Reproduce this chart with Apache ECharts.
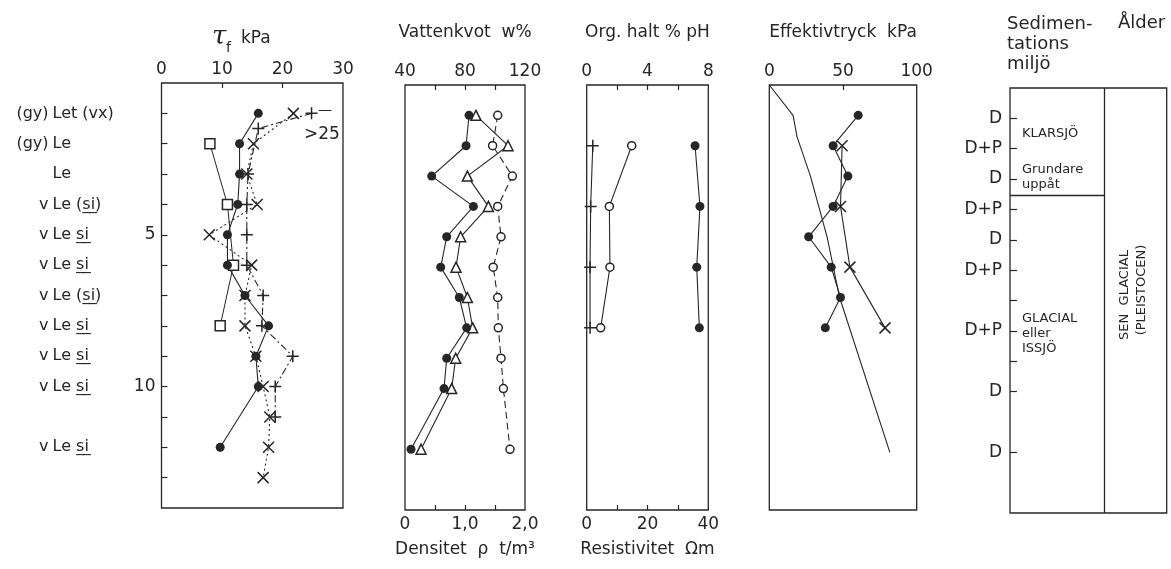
<!DOCTYPE html>
<html><head><meta charset="utf-8">
<script src="https://cdn.jsdelivr.net/npm/echarts@6/dist/echarts.min.js"></script>
<style>html,body{margin:0;padding:0;background:#fff}#c{width:1171px;height:569px}</style>
</head><body><div id="c"></div>
<script>
// ---------- DATA ----------
// Panel 1: shear strength tau_f (kPa) vs depth (m)
const tauCircleDepth = [1,2,3,4,5,6,7,8,9,10,12];
const tauCircle      = [16.0,12.9,12.9,12.6,10.9,10.9,13.8,17.7,15.6,16.0,9.7];
const tauSquareDepth = [2,4,6,8];
const tauSquare      = [8.0,10.9,11.9,9.7];
const tauCrossDepth  = [1,2,3,4,5,6,7,8,9,10,11,12,13];
const tauCross       = [21.8,15.2,14.1,15.8,7.9,14.9,13.8,13.8,15.6,16.8,17.9,17.7,16.8];
const tauPlusDepth   = [1,1.5,3,4,5,6,7,8,9,10,11];
const tauPlus        = [24.8,16.0,14.3,14.1,14.1,14.1,16.8,16.6,21.7,18.8,18.8];
// Soil description labels
const soilDepth = [1,2,3,4,5,6,7,8,9,10,12];
const soilPre   = ['(gy)','(gy)','','v','v','v','v','v','v','v','v'];
const soilMain  = ['Let (vx)','Le','Le','Le (s\u0332i\u0332)','Le s\u0332i\u0332','Le s\u0332i\u0332','Le (s\u0332i\u0332)','Le s\u0332i\u0332','Le s\u0332i\u0332','Le s\u0332i\u0332','Le s\u0332i\u0332'];
// Panel 2: water content & density
const wDepth   = [1,2,3,4,5,6,7,8,9,10,12];
const wNat     = [82.7,80.7,57.8,85.6,67.8,63.8,76.2,81.1,67.8,66.0,44.0];
const wLiq     = [87.3,108.7,81.6,95.6,77.1,74.0,81.6,85.1,73.8,71.1,50.7];
const density  = [1.545,1.46,1.79,1.545,1.60,1.47,1.545,1.555,1.60,1.64,1.75];
// Panel 3: organic content, pH, resistivity
const chemDepth = [2,4,6,8];
const orgPct    = [2.96,1.49,1.53,0.92];
const pH        = [7.13,7.45,7.24,7.41];
const resist    = [2.0,1.3,1.1,1.1];
// Panel 4: effective pressure
const preDepth  = [1,2,3,4,5,6,7,8];
const preCons   = [60.3,43.3,53.3,43.3,26.7,42.0,48.3,38.0];
const preXDepth = [2,4,6,8];
const preX      = [49.4,48.3,54.7,78.5];
const ovbDepth  = [0,1,1.7,3,5,7,12.1];
const ovb       = [0,16.1,18.8,27.9,39.2,47.7,81.8];
// Panel 5: sedimentation environment
const envDepth  = [1,2,3,4,5,6,7,8,9,10,12];
const envLabel  = ['D','D+P','D','D+P','D','D+P','','D+P','','D','D'];

// ---------- CHART ----------
const INK = '#262626';
const FONT = 'DejaVu Sans';
const pair = (xs, ds) => xs.map((v,i)=>[v, ds[i]]);
const X = 'path://M0,0L10,10M10,0L0,10';
const P = 'path://M5,0L5,10M0,5L10,5';
const grid = (l,t,w) => ({left:l, top:t, width:w, height:425, show:true, borderColor:INK, borderWidth:1.3, backgroundColor:'transparent'});
const hid = {show:false};
const lab = (extra) => Object.assign({color:INK, fontFamily:FONT, fontSize:17}, extra);
const tick = (vals, len) => ({show:true, inside:true, length:len||6, customValues:vals, lineStyle:{color:INK, width:1.2}});
const nameStyle = {color:INK, fontFamily:FONT, fontSize:17};
const soilAxis = (arr, margin, align) => ({gridIndex:0, type:'value', position:'left', inverse:true, min:0, max:14,
  axisLine:hid, splitLine:hid, axisTick:hid,
  axisLabel:{color:INK, fontFamily:FONT, fontSize:16, margin:margin, align:align, customValues:soilDepth,
    formatter:v=>{const i=soilDepth.indexOf(v); return i<0?'':arr[i];}}});

const chart = echarts.init(document.getElementById('c'), null, {renderer:'canvas'});
const option = {
  backgroundColor:'#fff',
  animation:false,
  grid:[grid(161.5,83,181.5), grid(405,85,120), grid(586.7,85,121.6), grid(769.3,85,147.4), grid(1010,88,156.7)],
  xAxis:[
    {gridIndex:0, type:'value', position:'top', min:0, max:30, interval:10, axisLine:hid, splitLine:hid,
     axisTick:tick([10,20],5), axisLabel:lab({margin:5})},
    {gridIndex:1, type:'value', position:'top', min:40, max:120, interval:20, axisLine:hid, splitLine:hid,
     axisTick:tick([60,80,100],5), axisLabel:lab({margin:5, customValues:[40,80,120]}),
     name:'Vattenkvot  w%', nameLocation:'middle', nameGap:44, nameTextStyle:nameStyle},
    {gridIndex:1, type:'value', position:'bottom', min:0, max:2, interval:0.5, axisLine:hid, splitLine:hid,
     axisTick:tick([0.5,1,1.5],5), axisLabel:lab({margin:6, customValues:[0,1,2], formatter:v=>v===0?'0':v.toFixed(1).replace('.',',')}),
     name:'Densitet  \u03c1  t/m\u00b3', nameLocation:'middle', nameGap:31, nameTextStyle:nameStyle},
    {gridIndex:2, type:'value', position:'top', min:0, max:8, interval:2, axisLine:hid, splitLine:hid,
     axisTick:tick([2,4,6],5), axisLabel:lab({margin:5, customValues:[0,4,8]}),
     name:'Org. halt % pH', nameLocation:'middle', nameGap:44, nameTextStyle:nameStyle},
    {gridIndex:2, type:'value', position:'bottom', min:0, max:40, interval:10, axisLine:hid, splitLine:hid,
     axisTick:tick([10,20,30],5), axisLabel:lab({margin:6, customValues:[0,20,40]}),
     name:'Resistivitet  \u03a9m', nameLocation:'middle', nameGap:31, nameTextStyle:nameStyle},
    {gridIndex:3, type:'value', position:'top', min:0, max:100, interval:50, axisLine:hid, splitLine:hid,
     axisTick:tick([50],5), axisLabel:lab({margin:5}),
     name:'Effektivtryck  kPa', nameLocation:'middle', nameGap:44, nameTextStyle:nameStyle},
    {gridIndex:4, type:'value', position:'top', min:0, max:100, show:false}
  ],
  yAxis:[
    {gridIndex:0, type:'value', position:'left', inverse:true, min:0, max:14, interval:1, axisLine:hid, splitLine:hid,
     axisTick:tick([1,2,3,4,5,6,7,8,9,10,11,12,13],6), axisLabel:lab({margin:6, customValues:[5,10]})},
    soilAxis(soilPre, 113, 'right'),
    soilAxis(soilMain, 109, 'left'),
    {gridIndex:1, type:'value', position:'left', inverse:true, min:0, max:14, show:false},
    {gridIndex:2, type:'value', position:'left', inverse:true, min:0, max:14, show:false},
    {gridIndex:3, type:'value', position:'left', inverse:true, min:0, max:14, show:false},
    {gridIndex:4, type:'value', position:'left', inverse:true, min:0, max:14, interval:1, axisLine:hid, splitLine:hid,
     axisTick:tick(envDepth,7),
     axisLabel:lab({margin:8, customValues:envDepth, formatter:v=>{const i=envDepth.indexOf(v); return i<0?'':envLabel[i];}})}
  ],
  series:[
    // Panel 1
    {type:'line', xAxisIndex:0, yAxisIndex:0, data:pair(tauSquare,tauSquareDepth), symbol:'rect', symbolSize:10,
     lineStyle:{color:INK,width:1}, itemStyle:{color:'#fff',borderColor:INK,borderWidth:1.5}},
    {type:'line', xAxisIndex:0, yAxisIndex:0, data:pair(tauCross,tauCrossDepth), symbol:X, symbolSize:11,
     lineStyle:{color:INK,width:1.1,type:[2,3]}, itemStyle:{color:'rgba(0,0,0,0)',borderColor:INK,borderWidth:1.5}},
    {type:'line', xAxisIndex:0, yAxisIndex:0, data:pair(tauPlus,tauPlusDepth), symbol:P, symbolSize:12,
     lineStyle:{color:INK,width:1.1,type:[7,3,2,3]}, itemStyle:{color:'rgba(0,0,0,0)',borderColor:INK,borderWidth:1.5}},
    {type:'line', xAxisIndex:0, yAxisIndex:0, data:pair(tauCircle,tauCircleDepth), symbol:'circle', symbolSize:9,
     lineStyle:{color:INK,width:1.1}, itemStyle:{color:INK}},
    // Panel 2
    {type:'line', xAxisIndex:1, yAxisIndex:3, data:pair(wLiq,wDepth), symbol:'triangle', symbolSize:10,
     lineStyle:{color:INK,width:1.1}, itemStyle:{color:'#fff',borderColor:INK,borderWidth:1.5}},
    {type:'line', xAxisIndex:1, yAxisIndex:3, data:pair(wNat,wDepth), symbol:'circle', symbolSize:9,
     lineStyle:{color:INK,width:1.1}, itemStyle:{color:INK}},
    {type:'line', xAxisIndex:2, yAxisIndex:3, data:pair(density,wDepth), symbol:'circle', symbolSize:8,
     lineStyle:{color:INK,width:1.1,type:[7,4]}, itemStyle:{color:'#fff',borderColor:INK,borderWidth:1.5}},
    // Panel 3
    {type:'line', xAxisIndex:4, yAxisIndex:4, data:pair(resist,chemDepth), symbol:P, symbolSize:12,
     lineStyle:{color:INK,width:1.1}, itemStyle:{color:'rgba(0,0,0,0)',borderColor:INK,borderWidth:1.5}},
    {type:'line', xAxisIndex:3, yAxisIndex:4, data:pair(orgPct,chemDepth), symbol:'circle', symbolSize:8,
     lineStyle:{color:INK,width:1.1}, itemStyle:{color:'#fff',borderColor:INK,borderWidth:1.5}},
    {type:'line', xAxisIndex:3, yAxisIndex:4, data:pair(pH,chemDepth), symbol:'circle', symbolSize:9,
     lineStyle:{color:INK,width:1.1}, itemStyle:{color:INK}},
    // Panel 4
    {type:'line', xAxisIndex:5, yAxisIndex:5, data:pair(ovb,ovbDepth), symbol:'none',
     lineStyle:{color:INK,width:1.1}},
    {type:'line', xAxisIndex:5, yAxisIndex:5, data:pair(preX,preXDepth), symbol:X, symbolSize:11,
     lineStyle:{color:INK,width:1.1}, itemStyle:{color:'rgba(0,0,0,0)',borderColor:INK,borderWidth:1.5}},
    {type:'line', xAxisIndex:5, yAxisIndex:5, data:pair(preCons,preDepth), symbol:'circle', symbolSize:9,
     lineStyle:{color:INK,width:1.1}, itemStyle:{color:INK}},
    // Panel 5 dividers
    {type:'scatter', xAxisIndex:6, yAxisIndex:6, data:[[0,0]], symbolSize:0, silent:true,
     markLine:{silent:true, symbol:'none', label:{show:false}, lineStyle:{color:INK,width:1.3,type:'solid'},
       data:[[{coord:[60,0]},{coord:[60,14]}],[{coord:[0,3.52]},{coord:[60,3.52]}]]}}
  ],
  graphic:[
    {type:'text', left:212, top:24, style:{text:'\u03c4', font:'italic 26px "DejaVu Serif"', fill:INK}},
    {type:'text', left:226, top:41, style:{text:'f', font:'14px "DejaVu Sans"', fill:INK}},
    {type:'text', left:241, top:30, style:{text:'kPa', font:'17px "DejaVu Sans"', fill:INK}},
    {type:'text', left:318, top:103, style:{text:'\u2014', font:'14px "DejaVu Sans"', fill:INK}},
    {type:'text', left:304, top:126, style:{text:'>25', font:'17px "DejaVu Sans"', fill:INK}},
    {type:'text', left:1007, top:14, style:{text:'Sedimen-\ntations\nmiljö', font:'18px "DejaVu Sans"', fill:INK, lineHeight:20}},
    {type:'text', left:1118, top:14, style:{text:'Ålder', font:'18px "DejaVu Sans"', fill:INK}},
    {type:'text', left:1022, top:127, style:{text:'KLARSJÖ', font:'13px "DejaVu Sans"', fill:INK}},
    {type:'text', left:1022, top:162, style:{text:'Grundare\nuppåt', font:'13px "DejaVu Sans"', fill:INK, lineHeight:15}},
    {type:'text', left:1022, top:311, style:{text:'GLACIAL\neller\nISSJÖ', font:'13px "DejaVu Sans"', fill:INK, lineHeight:15}},
    {type:'text', x:1125, y:295, rotation:Math.PI/2, style:{text:'SEN  GLACIAL', font:'13px "DejaVu Sans"', fill:INK, align:'center', verticalAlign:'middle'}},
    {type:'text', x:1142, y:290, rotation:Math.PI/2, style:{text:'(PLEISTOCEN)', font:'13px "DejaVu Sans"', fill:INK, align:'center', verticalAlign:'middle'}}
  ]
};
chart.setOption(option);
</script></body></html>
